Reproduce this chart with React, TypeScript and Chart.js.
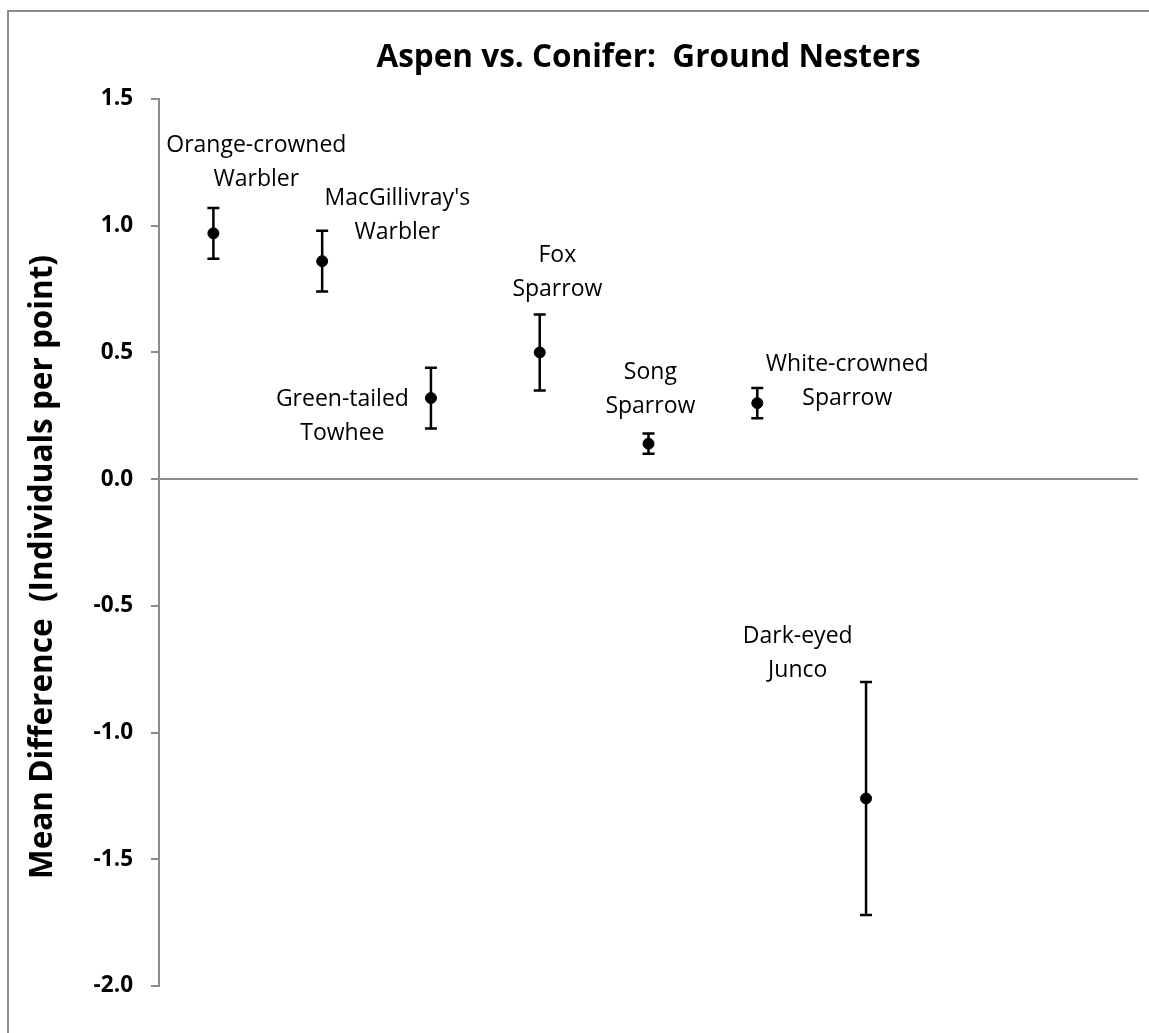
import { useEffect, useRef } from "react";
import { Chart, registerables } from "chart.js";

Chart.register(...registerables);

// Chart text
const chartTitle = "Aspen vs. Conifer:  Ground Nesters";
const yAxisTitle = "Mean Difference  (Individuals per point)";

// Species, in plotting order
const species = [
  "Orange-crowned Warbler",
  "MacGillivray's Warbler",
  "Green-tailed Towhee",
  "Fox Sparrow",
  "Song Sparrow",
  "White-crowned Sparrow",
  "Dark-eyed Junco",
];
const speciesLabelLines = [
  ["Orange-crowned", "Warbler"],
  ["MacGillivray's", "Warbler"],
  ["Green-tailed", "Towhee"],
  ["Fox", "Sparrow"],
  ["Song", "Sparrow"],
  ["White-crowned", "Sparrow"],
  ["Dark-eyed", "Junco"],
];

// Horizontal slot of each species and its mean difference (aspen minus conifer)
const slots = [1, 2, 3, 4, 5, 6, 7];
const meanDiff = [0.97, 0.86, 0.32, 0.5, 0.14, 0.3, -1.26];
const errorHalf = [0.1, 0.12, 0.12, 0.15, 0.04, 0.06, 0.46];

// Where each species name sits, in data units (centre of the two-line block)
const labelAnchorX = [1.395, 2.691, 2.186, 4.162, 5.017, 6.827, 6.372];
const labelAnchorY = [1.249, 1.042, 0.247, 0.817, 0.355, 0.385, -0.687];

// Axis range
const xMin = 0.5;
const xMax = 9.5;
const yMin = -2.0;
const yMax = 1.5;
const yStep = 0.5;

const AXIS_GREY = "#8c8c8c";
const FONT = "'Open Sans', 'DejaVu Sans', sans-serif";

const errorBarsAndText = {
  id: "errorBarsAndText",
  afterDatasetsDraw(chart: any) {
    const { ctx, scales } = chart;
    const xs = scales.x;
    const ys = scales.y;

    // error bars
    ctx.save();
    ctx.strokeStyle = "#000";
    ctx.lineWidth = 2.5;
    const cap = 6;
    slots.forEach((s, i) => {
      const px = xs.getPixelForValue(s);
      const top = ys.getPixelForValue(meanDiff[i] + errorHalf[i]);
      const bot = ys.getPixelForValue(meanDiff[i] - errorHalf[i]);
      ctx.beginPath();
      ctx.moveTo(px, top);
      ctx.lineTo(px, bot);
      ctx.moveTo(px - cap, top);
      ctx.lineTo(px + cap, top);
      ctx.moveTo(px - cap, bot);
      ctx.lineTo(px + cap, bot);
      ctx.stroke();
    });
    ctx.restore();
  },
  afterDraw(chart: any) {
    const { ctx, scales, chartArea } = chart;
    const xs = scales.x;
    const ys = scales.y;
    ctx.save();
    ctx.fillStyle = "#000";
    ctx.textAlign = "center";
    ctx.textBaseline = "middle";

    // chart title
    ctx.font = `bold 31.5px ${FONT}`;
    ctx.fillText(chartTitle, (chartArea.left + chartArea.right) / 2, 58);

    // y axis title
    ctx.save();
    ctx.translate(43, 567);
    ctx.rotate(-Math.PI / 2);
    ctx.font = `bold 31.5px ${FONT}`;
    ctx.fillText(yAxisTitle, 0, 0);
    ctx.restore();

    // species names
    ctx.font = `23px ${FONT}`;
    const lineGap = 34;
    speciesLabelLines.forEach((lines, i) => {
      const cx = xs.getPixelForValue(labelAnchorX[i]);
      const cy = ys.getPixelForValue(labelAnchorY[i]);
      lines.forEach((t, j) => {
        const dy = (j - (lines.length - 1) / 2) * lineGap;
        ctx.fillText(t, cx, cy + dy);
      });
    });
    ctx.restore();
  },
};

export default function App() {
  const canvasRef = useRef<HTMLCanvasElement | null>(null);

  useEffect(() => {
    const canvas = canvasRef.current;
    if (!canvas) return;
    const chart = new Chart(canvas, {
      type: "scatter",
      data: {
        datasets: [
          {
            label: "Mean difference",
            data: slots.map((s, i) => ({ x: s, y: meanDiff[i] })),
            backgroundColor: "#000",
            borderColor: "#000",
            pointRadius: 5.5,
            pointHoverRadius: 5.5,
            showLine: false,
          },
        ],
      },
      options: {
        animation: false,
        responsive: true,
        maintainAspectRatio: false,
        layout: { padding: { left: 0, top: 99, right: 11, bottom: 47 } },
        plugins: {
          legend: { display: false },
          title: { display: false },
          tooltip: { enabled: false },
        },
        scales: {
          x: {
            type: "linear",
            min: xMin,
            max: xMax,
            display: false,
          },
          y: {
            type: "linear",
            min: yMin,
            max: yMax,
            afterFit(scale: any) {
              scale.width = 159;
            },
            border: { display: true, color: AXIS_GREY, width: 2 },
            grid: {
              drawOnChartArea: true,
              drawTicks: true,
              tickLength: 8,
              lineWidth: 2,
              color: (ctx: any) => (ctx.tick && ctx.tick.value === 0 ? AXIS_GREY : "rgba(0,0,0,0)"),
              tickColor: AXIS_GREY,
            },
            ticks: {
              stepSize: yStep,
              padding: 18,
              color: "#000",
              font: { family: FONT, size: 22.5, weight: "bold" },
              callback: (v: any) => Number(v).toFixed(1),
            },
          },
        },
      },
      plugins: [errorBarsAndText],
    });
    return () => chart.destroy();
  }, []);

  return (
    <div>
      <div
        style={{
          position: "fixed",
          left: 7,
          top: 10,
          width: 1142,
          height: 1023,
          boxSizing: "border-box",
          borderTop: `2px solid ${AXIS_GREY}`,
          borderLeft: `2px solid ${AXIS_GREY}`,
        }}
      />
      <div style={{ position: "fixed", left: 0, top: 0, width: 1149, height: 1033 }}>
        <canvas ref={canvasRef} />
      </div>
    </div>
  );
}
